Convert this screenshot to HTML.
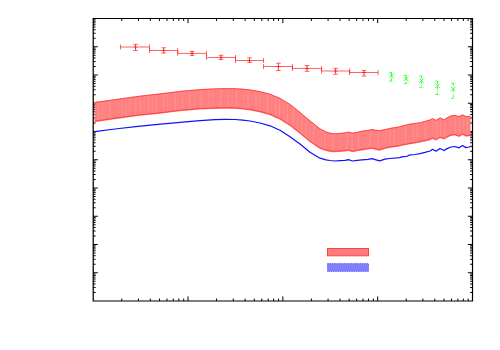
<!DOCTYPE html><html><head><meta charset="utf-8"><style>html,body{margin:0;padding:0;background:#fff;font-family:"Liberation Sans",sans-serif}svg{display:block}</style></head><body>
<svg width="500" height="350" viewBox="0 0 500 350">
<rect width="500" height="350" fill="#fff"/>
<g stroke="#000" stroke-width="1.0" fill="none">
<path d="M121.75 18.50v2.45 M121.75 301.00v-2.45"/>
<path d="M138.44 18.50v2.45 M138.44 301.00v-2.45"/>
<path d="M150.29 18.50v2.45 M150.29 301.00v-2.45"/>
<path d="M159.48 18.50v2.45 M159.48 301.00v-2.45"/>
<path d="M166.99 18.50v2.45 M166.99 301.00v-2.45"/>
<path d="M173.34 18.50v2.45 M173.34 301.00v-2.45"/>
<path d="M178.84 18.50v2.45 M178.84 301.00v-2.45"/>
<path d="M183.69 18.50v2.45 M183.69 301.00v-2.45"/>
<path d="M188.03 18.50v4.60 M188.03 301.00v-4.60"/>
<path d="M216.57 18.50v2.45 M216.57 301.00v-2.45"/>
<path d="M233.27 18.50v2.45 M233.27 301.00v-2.45"/>
<path d="M245.12 18.50v2.45 M245.12 301.00v-2.45"/>
<path d="M254.30 18.50v2.45 M254.30 301.00v-2.45"/>
<path d="M261.81 18.50v2.45 M261.81 301.00v-2.45"/>
<path d="M268.16 18.50v2.45 M268.16 301.00v-2.45"/>
<path d="M273.66 18.50v2.45 M273.66 301.00v-2.45"/>
<path d="M278.51 18.50v2.45 M278.51 301.00v-2.45"/>
<path d="M282.85 18.50v4.60 M282.85 301.00v-4.60"/>
<path d="M311.40 18.50v2.45 M311.40 301.00v-2.45"/>
<path d="M328.09 18.50v2.45 M328.09 301.00v-2.45"/>
<path d="M339.94 18.50v2.45 M339.94 301.00v-2.45"/>
<path d="M349.13 18.50v2.45 M349.13 301.00v-2.45"/>
<path d="M356.64 18.50v2.45 M356.64 301.00v-2.45"/>
<path d="M362.99 18.50v2.45 M362.99 301.00v-2.45"/>
<path d="M368.49 18.50v2.45 M368.49 301.00v-2.45"/>
<path d="M373.34 18.50v2.45 M373.34 301.00v-2.45"/>
<path d="M377.68 18.50v4.60 M377.68 301.00v-4.60"/>
<path d="M406.22 18.50v2.45 M406.22 301.00v-2.45"/>
<path d="M422.92 18.50v2.45 M422.92 301.00v-2.45"/>
<path d="M434.77 18.50v2.45 M434.77 301.00v-2.45"/>
<path d="M443.95 18.50v2.45 M443.95 301.00v-2.45"/>
<path d="M451.46 18.50v2.45 M451.46 301.00v-2.45"/>
<path d="M457.81 18.50v2.45 M457.81 301.00v-2.45"/>
<path d="M463.31 18.50v2.45 M463.31 301.00v-2.45"/>
<path d="M468.16 18.50v2.45 M468.16 301.00v-2.45"/>
<path d="M93.20 292.50h2.40 M472.50 292.50h-2.40"/>
<path d="M93.20 287.52h2.40 M472.50 287.52h-2.40"/>
<path d="M93.20 283.99h2.40 M472.50 283.99h-2.40"/>
<path d="M93.20 281.25h2.40 M472.50 281.25h-2.40"/>
<path d="M93.20 279.02h2.40 M472.50 279.02h-2.40"/>
<path d="M93.20 277.13h2.40 M472.50 277.13h-2.40"/>
<path d="M93.20 275.49h2.40 M472.50 275.49h-2.40"/>
<path d="M93.20 274.04h2.40 M472.50 274.04h-2.40"/>
<path d="M93.20 272.75h4.60 M472.50 272.75h-4.60"/>
<path d="M93.20 264.25h2.40 M472.50 264.25h-2.40"/>
<path d="M93.20 259.27h2.40 M472.50 259.27h-2.40"/>
<path d="M93.20 255.74h2.40 M472.50 255.74h-2.40"/>
<path d="M93.20 253.00h2.40 M472.50 253.00h-2.40"/>
<path d="M93.20 250.77h2.40 M472.50 250.77h-2.40"/>
<path d="M93.20 248.88h2.40 M472.50 248.88h-2.40"/>
<path d="M93.20 247.24h2.40 M472.50 247.24h-2.40"/>
<path d="M93.20 245.79h2.40 M472.50 245.79h-2.40"/>
<path d="M93.20 244.50h4.60 M472.50 244.50h-4.60"/>
<path d="M93.20 236.00h2.40 M472.50 236.00h-2.40"/>
<path d="M93.20 231.02h2.40 M472.50 231.02h-2.40"/>
<path d="M93.20 227.49h2.40 M472.50 227.49h-2.40"/>
<path d="M93.20 224.75h2.40 M472.50 224.75h-2.40"/>
<path d="M93.20 222.52h2.40 M472.50 222.52h-2.40"/>
<path d="M93.20 220.63h2.40 M472.50 220.63h-2.40"/>
<path d="M93.20 218.99h2.40 M472.50 218.99h-2.40"/>
<path d="M93.20 217.54h2.40 M472.50 217.54h-2.40"/>
<path d="M93.20 216.25h4.60 M472.50 216.25h-4.60"/>
<path d="M93.20 207.75h2.40 M472.50 207.75h-2.40"/>
<path d="M93.20 202.77h2.40 M472.50 202.77h-2.40"/>
<path d="M93.20 199.24h2.40 M472.50 199.24h-2.40"/>
<path d="M93.20 196.50h2.40 M472.50 196.50h-2.40"/>
<path d="M93.20 194.27h2.40 M472.50 194.27h-2.40"/>
<path d="M93.20 192.38h2.40 M472.50 192.38h-2.40"/>
<path d="M93.20 190.74h2.40 M472.50 190.74h-2.40"/>
<path d="M93.20 189.29h2.40 M472.50 189.29h-2.40"/>
<path d="M93.20 188.00h4.60 M472.50 188.00h-4.60"/>
<path d="M93.20 179.50h2.40 M472.50 179.50h-2.40"/>
<path d="M93.20 174.52h2.40 M472.50 174.52h-2.40"/>
<path d="M93.20 170.99h2.40 M472.50 170.99h-2.40"/>
<path d="M93.20 168.25h2.40 M472.50 168.25h-2.40"/>
<path d="M93.20 166.02h2.40 M472.50 166.02h-2.40"/>
<path d="M93.20 164.13h2.40 M472.50 164.13h-2.40"/>
<path d="M93.20 162.49h2.40 M472.50 162.49h-2.40"/>
<path d="M93.20 161.04h2.40 M472.50 161.04h-2.40"/>
<path d="M93.20 159.75h4.60 M472.50 159.75h-4.60"/>
<path d="M93.20 151.25h2.40 M472.50 151.25h-2.40"/>
<path d="M93.20 146.27h2.40 M472.50 146.27h-2.40"/>
<path d="M93.20 142.74h2.40 M472.50 142.74h-2.40"/>
<path d="M93.20 140.00h2.40 M472.50 140.00h-2.40"/>
<path d="M93.20 137.77h2.40 M472.50 137.77h-2.40"/>
<path d="M93.20 135.88h2.40 M472.50 135.88h-2.40"/>
<path d="M93.20 134.24h2.40 M472.50 134.24h-2.40"/>
<path d="M93.20 132.79h2.40 M472.50 132.79h-2.40"/>
<path d="M93.20 131.50h4.60 M472.50 131.50h-4.60"/>
<path d="M93.20 123.00h2.40 M472.50 123.00h-2.40"/>
<path d="M93.20 118.02h2.40 M472.50 118.02h-2.40"/>
<path d="M93.20 114.49h2.40 M472.50 114.49h-2.40"/>
<path d="M93.20 111.75h2.40 M472.50 111.75h-2.40"/>
<path d="M93.20 109.52h2.40 M472.50 109.52h-2.40"/>
<path d="M93.20 107.63h2.40 M472.50 107.63h-2.40"/>
<path d="M93.20 105.99h2.40 M472.50 105.99h-2.40"/>
<path d="M93.20 104.54h2.40 M472.50 104.54h-2.40"/>
<path d="M93.20 103.25h4.60 M472.50 103.25h-4.60"/>
<path d="M93.20 94.75h2.40 M472.50 94.75h-2.40"/>
<path d="M93.20 89.77h2.40 M472.50 89.77h-2.40"/>
<path d="M93.20 86.24h2.40 M472.50 86.24h-2.40"/>
<path d="M93.20 83.50h2.40 M472.50 83.50h-2.40"/>
<path d="M93.20 81.27h2.40 M472.50 81.27h-2.40"/>
<path d="M93.20 79.38h2.40 M472.50 79.38h-2.40"/>
<path d="M93.20 77.74h2.40 M472.50 77.74h-2.40"/>
<path d="M93.20 76.29h2.40 M472.50 76.29h-2.40"/>
<path d="M93.20 75.00h4.60 M472.50 75.00h-4.60"/>
<path d="M93.20 66.50h2.40 M472.50 66.50h-2.40"/>
<path d="M93.20 61.52h2.40 M472.50 61.52h-2.40"/>
<path d="M93.20 57.99h2.40 M472.50 57.99h-2.40"/>
<path d="M93.20 55.25h2.40 M472.50 55.25h-2.40"/>
<path d="M93.20 53.02h2.40 M472.50 53.02h-2.40"/>
<path d="M93.20 51.13h2.40 M472.50 51.13h-2.40"/>
<path d="M93.20 49.49h2.40 M472.50 49.49h-2.40"/>
<path d="M93.20 48.04h2.40 M472.50 48.04h-2.40"/>
<path d="M93.20 46.75h4.60 M472.50 46.75h-4.60"/>
<path d="M93.20 38.25h2.40 M472.50 38.25h-2.40"/>
<path d="M93.20 33.27h2.40 M472.50 33.27h-2.40"/>
<path d="M93.20 29.74h2.40 M472.50 29.74h-2.40"/>
<path d="M93.20 27.00h2.40 M472.50 27.00h-2.40"/>
<path d="M93.20 24.77h2.40 M472.50 24.77h-2.40"/>
<path d="M93.20 22.88h2.40 M472.50 22.88h-2.40"/>
<path d="M93.20 21.24h2.40 M472.50 21.24h-2.40"/>
<path d="M93.20 19.79h2.40 M472.50 19.79h-2.40"/>
</g>
<path d="M92.6 17.9H473.1V301.6H92.6Z M93.85 19.1V300.4H471.9V19.1Z" fill="#000" fill-rule="evenodd"/>
<polygon points="94.60,102.10 115.00,99.20 138.00,96.00 158.00,93.70 180.00,91.00 200.00,89.20 215.00,88.40 225.00,88.20 235.00,88.30 243.00,88.80 250.00,89.50 260.00,91.20 270.00,93.80 280.00,98.00 290.00,104.00 300.00,112.00 310.00,120.50 320.00,128.40 326.00,131.50 330.00,132.80 335.00,133.40 340.00,133.00 345.00,132.50 348.50,131.70 352.50,132.70 357.00,132.00 362.00,130.80 368.00,130.00 372.00,129.10 376.00,129.90 379.60,130.20 385.00,129.20 390.00,128.00 399.50,126.40 403.00,125.20 406.60,124.50 409.00,123.90 415.00,123.00 420.00,122.40 425.00,120.90 430.00,119.60 432.50,118.20 436.00,120.00 440.00,117.50 444.00,119.50 447.00,117.50 451.00,115.50 455.00,115.00 459.00,116.30 462.50,114.40 466.00,116.30 469.00,116.00 470.60,115.90 470.60,136.10 469.00,136.20 466.00,136.80 462.50,134.90 459.00,137.10 455.00,135.40 451.00,135.90 447.00,137.80 444.00,139.60 440.00,138.10 436.00,140.60 432.50,138.90 430.00,140.20 425.00,141.40 420.00,142.60 415.00,143.60 409.00,144.50 406.60,145.10 403.00,145.50 399.50,146.50 390.00,147.90 385.00,149.00 379.60,150.70 376.00,150.00 372.00,148.90 368.00,149.60 362.00,150.40 357.00,151.30 352.50,152.30 348.50,150.90 345.00,151.50 340.00,151.90 335.00,152.30 330.00,151.90 326.00,151.00 320.00,148.90 310.00,142.30 300.00,133.90 290.00,126.10 280.00,119.70 270.00,115.20 260.00,112.40 250.00,110.40 243.00,109.50 235.00,108.90 225.00,108.70 215.00,108.90 200.00,109.60 180.00,111.30 158.00,114.00 138.00,116.00 115.00,119.20 94.60,122.20" fill="#ff8080"/>
<g stroke="#ffffff" stroke-width="0.9">
<line x1="98.40" x2="98.40" y1="102.46" y2="120.74" stroke-opacity="0.17"/>
<line x1="102.30" x2="102.30" y1="101.91" y2="120.17" stroke-opacity="0.14"/>
<line x1="110.10" x2="110.10" y1="100.80" y2="119.02" stroke-opacity="0.18"/>
<line x1="118.00" x2="118.00" y1="99.68" y2="117.88" stroke-opacity="0.08"/>
<line x1="121.90" x2="121.90" y1="99.14" y2="117.34" stroke-opacity="0.16"/>
<line x1="125.80" x2="125.80" y1="98.60" y2="116.80" stroke-opacity="0.15"/>
<line x1="129.80" x2="129.80" y1="98.04" y2="116.24" stroke-opacity="0.10"/>
<line x1="135.80" x2="135.80" y1="97.21" y2="115.41" stroke-opacity="0.17"/>
<line x1="140.30" x2="140.30" y1="96.64" y2="114.87" stroke-opacity="0.15"/>
<line x1="144.20" x2="144.20" y1="96.19" y2="114.48" stroke-opacity="0.06"/>
<line x1="148.40" x2="148.40" y1="95.70" y2="114.06" stroke-opacity="0.16"/>
<line x1="152.30" x2="152.30" y1="95.26" y2="113.67" stroke-opacity="0.12"/>
<line x1="156.10" x2="156.10" y1="94.82" y2="113.29" stroke-opacity="0.18"/>
<line x1="163.90" x2="163.90" y1="93.88" y2="112.38" stroke-opacity="0.16"/>
<line x1="167.50" x2="167.50" y1="93.43" y2="111.93" stroke-opacity="0.09"/>
<line x1="175.30" x2="175.30" y1="92.48" y2="110.98" stroke-opacity="0.17"/>
<line x1="182.50" x2="182.50" y1="91.68" y2="110.19" stroke-opacity="0.14"/>
<line x1="189.70" x2="189.70" y1="91.03" y2="109.58" stroke-opacity="0.18"/>
<line x1="194.50" x2="194.50" y1="90.59" y2="109.17" stroke-opacity="0.08"/>
<line x1="201.10" x2="201.10" y1="90.04" y2="108.65" stroke-opacity="0.16"/>
<line x1="208.90" x2="208.90" y1="89.63" y2="108.28" stroke-opacity="0.15"/>
<line x1="212.80" x2="212.80" y1="89.42" y2="108.10" stroke-opacity="0.10"/>
<line x1="220.70" x2="220.70" y1="89.19" y2="107.89" stroke-opacity="0.17"/>
<line x1="228.40" x2="228.40" y1="89.13" y2="107.87" stroke-opacity="0.15"/>
<line x1="232.30" x2="232.30" y1="89.17" y2="107.95" stroke-opacity="0.06"/>
<line x1="236.40" x2="236.40" y1="89.29" y2="108.11" stroke-opacity="0.16"/>
<line x1="244.00" x2="244.00" y1="89.80" y2="108.73" stroke-opacity="0.12"/>
<line x1="248.00" x2="248.00" y1="90.20" y2="109.24" stroke-opacity="0.18"/>
<line x1="255.90" x2="255.90" y1="91.40" y2="110.68" stroke-opacity="0.16"/>
<line x1="259.80" x2="259.80" y1="92.07" y2="111.46" stroke-opacity="0.09"/>
<line x1="267.60" x2="267.60" y1="94.08" y2="113.63" stroke-opacity="0.17"/>
<line x1="275.50" x2="275.50" y1="97.01" y2="116.77" stroke-opacity="0.14"/>
<line x1="279.40" x2="279.40" y1="98.65" y2="118.53" stroke-opacity="0.18"/>
<line x1="283.30" x2="283.30" y1="100.88" y2="120.91" stroke-opacity="0.08"/>
<line x1="287.30" x2="287.30" y1="103.28" y2="123.47" stroke-opacity="0.16"/>
<line x1="293.30" x2="293.30" y1="107.54" y2="127.77" stroke-opacity="0.15"/>
<line x1="297.80" x2="297.80" y1="111.14" y2="131.28" stroke-opacity="0.10"/>
<line x1="301.70" x2="301.70" y1="114.34" y2="134.43" stroke-opacity="0.17"/>
<line x1="305.90" x2="305.90" y1="117.91" y2="137.96" stroke-opacity="0.15"/>
<line x1="309.80" x2="309.80" y1="121.23" y2="141.23" stroke-opacity="0.06"/>
<line x1="313.60" x2="313.60" y1="124.24" y2="143.78" stroke-opacity="0.16"/>
<line x1="321.40" x2="321.40" y1="130.02" y2="148.49" stroke-opacity="0.12"/>
<line x1="325.00" x2="325.00" y1="131.88" y2="149.75" stroke-opacity="0.18"/>
<line x1="332.80" x2="332.80" y1="134.04" y2="151.22" stroke-opacity="0.16"/>
<line x1="340.00" x2="340.00" y1="133.90" y2="151.00" stroke-opacity="0.09"/>
<line x1="347.20" x2="347.20" y1="132.90" y2="150.22" stroke-opacity="0.17"/>
<line x1="352.00" x2="352.00" y1="133.47" y2="151.22" stroke-opacity="0.14"/>
<line x1="358.60" x2="358.60" y1="132.52" y2="150.11" stroke-opacity="0.18"/>
<line x1="366.40" x2="366.40" y1="131.11" y2="148.91" stroke-opacity="0.08"/>
<line x1="370.30" x2="370.30" y1="130.38" y2="148.30" stroke-opacity="0.16"/>
<line x1="378.20" x2="378.20" y1="130.98" y2="149.53" stroke-opacity="0.15"/>
<line x1="385.90" x2="385.90" y1="129.88" y2="147.90" stroke-opacity="0.10"/>
<line x1="389.80" x2="389.80" y1="128.95" y2="147.04" stroke-opacity="0.17"/>
<line x1="393.90" x2="393.90" y1="128.24" y2="146.43" stroke-opacity="0.15"/>
<line x1="401.50" x2="401.50" y1="126.61" y2="145.03" stroke-opacity="0.06"/>
<line x1="405.50" x2="405.50" y1="125.61" y2="144.32" stroke-opacity="0.16"/>
<line x1="413.40" x2="413.40" y1="124.14" y2="142.94" stroke-opacity="0.12"/>
<line x1="417.30" x2="417.30" y1="123.62" y2="142.24" stroke-opacity="0.18"/>
<line x1="425.10" x2="425.10" y1="121.77" y2="140.48" stroke-opacity="0.16"/>
<line x1="433.00" x2="433.00" y1="119.36" y2="138.24" stroke-opacity="0.09"/>
<line x1="436.90" x2="436.90" y1="120.34" y2="139.14" stroke-opacity="0.17"/>
<line x1="440.80" x2="440.80" y1="118.80" y2="137.50" stroke-opacity="0.14"/>
<line x1="444.80" x2="444.80" y1="119.87" y2="138.22" stroke-opacity="0.18"/>
<line x1="450.80" x2="450.80" y1="116.50" y2="135.10" stroke-opacity="0.08"/>
<line x1="455.30" x2="455.30" y1="116.00" y2="134.63" stroke-opacity="0.16"/>
<line x1="459.20" x2="459.20" y1="117.09" y2="136.07" stroke-opacity="0.15"/>
<line x1="463.40" x2="463.40" y1="115.79" y2="134.49" stroke-opacity="0.10"/>
<line x1="467.30" x2="467.30" y1="117.07" y2="135.64" stroke-opacity="0.17"/>
</g>
<polyline points="94.60,102.50 115.00,99.60 138.00,96.40 158.00,94.10 180.00,91.40 200.00,89.60 215.00,88.80 225.00,88.60 235.00,88.70 243.00,89.20 250.00,89.90 260.00,91.60 270.00,94.20 280.00,98.40 290.00,104.40 300.00,112.40 310.00,120.90 320.00,128.80 326.00,131.90 330.00,133.20 335.00,133.80 340.00,133.40 345.00,132.90 348.50,132.10 352.50,133.10 357.00,132.40 362.00,131.20 368.00,130.40 372.00,129.50 376.00,130.30 379.60,130.60 385.00,129.60 390.00,128.40 399.50,126.80 403.00,125.60 406.60,124.90 409.00,124.30 415.00,123.40 420.00,122.80 425.00,121.30 430.00,120.00 432.50,118.60 436.00,120.40 440.00,117.90 444.00,119.90 447.00,117.90 451.00,115.90 455.00,115.40 459.00,116.70 462.50,114.80 466.00,116.70 469.00,116.40 470.60,116.30" fill="none" stroke="#ff1818" stroke-opacity="0.75" stroke-width="0.8"/>
<polyline points="94.60,121.20 115.00,118.20 138.00,115.00 158.00,113.00 180.00,110.30 200.00,108.60 215.00,107.90 225.00,107.70 235.00,107.90 243.00,108.50 250.00,109.40 260.00,111.40 270.00,114.20 280.00,118.70 290.00,125.10 300.00,132.90 310.00,141.30 320.00,147.90 326.00,150.00 330.00,150.90 335.00,151.30 340.00,150.90 345.00,150.50 348.50,149.90 352.50,151.30 357.00,150.30 362.00,149.40 368.00,148.60 372.00,147.90 376.00,149.00 379.60,149.70 385.00,148.00 390.00,146.90 399.50,145.50 403.00,144.50 406.60,144.10 409.00,143.50 415.00,142.60 420.00,141.60 425.00,140.40 430.00,139.20 432.50,137.90 436.00,139.60 440.00,137.10 444.00,138.60 447.00,136.80 451.00,134.90 455.00,134.40 459.00,136.10 462.50,133.90 466.00,135.80 469.00,135.20 470.60,135.10" fill="none" stroke="#ff1818" stroke-opacity="0.75" stroke-width="0.8"/>
<polyline points="94.60,131.60 115.00,129.00 138.00,126.40 158.00,124.40 180.00,122.40 200.00,120.60 215.00,119.70 225.00,119.40 235.00,119.50 243.00,120.10 250.00,121.00 260.00,123.00 270.00,125.80 280.00,130.20 290.00,136.80 300.00,144.00 310.00,152.20 320.00,158.20 326.00,159.80 330.00,160.50 335.00,161.00 340.00,160.70 345.00,160.40 348.50,159.60 352.50,161.00 357.00,160.40 362.00,159.80 368.00,159.30 372.00,158.70 376.00,159.80 379.60,160.80 385.00,159.20 390.00,158.50 399.50,157.60 403.00,156.60 406.60,156.50 409.00,155.20 415.00,154.50 420.00,153.60 425.00,152.40 430.00,151.00 432.50,149.30 436.00,151.20 440.00,148.50 444.00,150.50 447.00,148.60 451.00,147.00 455.00,146.50 459.00,147.80 462.50,145.50 466.00,147.60 469.00,147.00 470.60,146.60" fill="none" stroke="#1010ff" stroke-width="1.25" stroke-linejoin="round"/>
<g stroke="#ff0000" stroke-width="0.62" fill="none">
<path d="M120.50 47.00H149.50 M120.50 44.50V49.50 M149.50 44.50V49.50 M135.50 44.40V50.55 M133.20 44.40H137.80 M133.20 50.55H137.80"/>
<path stroke-width="0.5" d="M133.50 47.00H137.50 M135.50 45.00V49.00"/>
<path d="M149.50 50.50H177.70 M149.50 48.00V53.00 M177.70 48.00V53.00 M163.70 47.80V53.10 M161.40 47.80H166.00 M161.40 53.10H166.00"/>
<path stroke-width="0.5" d="M161.70 50.50H165.70 M163.70 48.50V52.50"/>
<path d="M177.70 53.40H206.50 M177.70 50.90V55.90 M206.50 50.90V55.90 M192.10 51.40V55.40 M189.80 51.40H194.40 M189.80 55.40H194.40"/>
<path stroke-width="0.5" d="M190.10 53.40H194.10 M192.10 51.40V55.40"/>
<path d="M206.50 57.45H235.50 M206.50 54.95V59.95 M235.50 54.95V59.95 M221.00 55.30V59.55 M218.70 55.30H223.30 M218.70 59.55H223.30"/>
<path stroke-width="0.5" d="M219.00 57.45H223.00 M221.00 55.45V59.45"/>
<path d="M235.50 60.50H263.50 M235.50 58.00V63.00 M263.50 58.00V63.00 M249.50 57.80V62.45 M247.20 57.80H251.80 M247.20 62.45H251.80"/>
<path stroke-width="0.5" d="M247.50 60.50H251.50 M249.50 58.50V62.45"/>
<path d="M263.50 66.50H292.45 M263.50 64.00V69.00 M292.45 64.00V69.00 M278.45 63.20V70.50 M276.15 63.20H280.75 M276.15 70.50H280.75"/>
<path stroke-width="0.5" d="M276.45 66.50H280.45 M278.45 64.50V68.50"/>
<path d="M292.45 68.45H321.55 M292.45 65.95V70.95 M321.55 65.95V70.95 M307.00 65.45V71.30 M304.70 65.45H309.30 M304.70 71.30H309.30"/>
<path stroke-width="0.5" d="M305.00 68.45H309.00 M307.00 66.45V70.45"/>
<path d="M321.55 71.00H349.60 M321.55 68.50V73.50 M349.60 68.50V73.50 M335.60 68.35V74.30 M333.30 68.35H337.90 M333.30 74.30H337.90"/>
<path stroke-width="0.5" d="M333.60 71.00H337.60 M335.60 69.00V73.00"/>
<path d="M349.60 72.50H378.10 M349.60 70.00V75.00 M378.10 70.00V75.00 M364.00 70.40V76.05 M361.70 70.40H366.30 M361.70 76.05H366.30"/>
<path stroke-width="0.5" d="M362.00 72.50H366.00 M364.00 70.50V74.50"/>
</g>
<g stroke="#00ff00" stroke-width="0.75" fill="none">
<path d="M389.30 73.70L393.70 78.10 M389.30 78.10L393.70 73.70"/>
<path stroke-dasharray="2.6 1.3 0.6 1.3" d="M391.50 72.40V81.00 M389.30 72.40H393.70 M389.30 81.00H393.70"/>
<path d="M404.00 76.70L408.40 81.10 M404.00 81.10L408.40 76.70"/>
<path stroke-dasharray="2.6 1.3 0.6 1.3" d="M406.20 75.40V83.60 M404.00 75.40H408.40 M404.00 83.60H408.40"/>
<path d="M419.30 78.40L423.70 82.80 M419.30 82.80L423.70 78.40"/>
<path stroke-dasharray="2.6 1.3 0.6 1.3" d="M421.50 76.00V87.40 M419.30 76.00H423.70 M419.30 87.40H423.70"/>
<path d="M435.30 83.60L439.70 88.00 M435.30 88.00L439.70 83.60"/>
<path stroke-dasharray="2.6 1.3 0.6 1.3" d="M437.50 81.20V94.50 M435.30 81.20H439.70 M435.30 94.50H439.70"/>
<path d="M451.10 86.80L455.50 91.20 M451.10 91.20L455.50 86.80"/>
<path stroke-dasharray="2.6 1.3 0.6 1.3" d="M453.30 83.20V98.30 M451.10 83.20H455.50 M451.10 98.30H455.50"/>
</g>
<rect x="327.5" y="248.5" width="41" height="7.3" fill="#ff7d7d" stroke="#ff4040" stroke-width="1"/>
<rect x="327.5" y="263.6" width="41" height="7.8" fill="#8080ff" stroke="#5858ff" stroke-width="0.9" stroke-dasharray="1.45 0.85"/>
</svg></body></html>
